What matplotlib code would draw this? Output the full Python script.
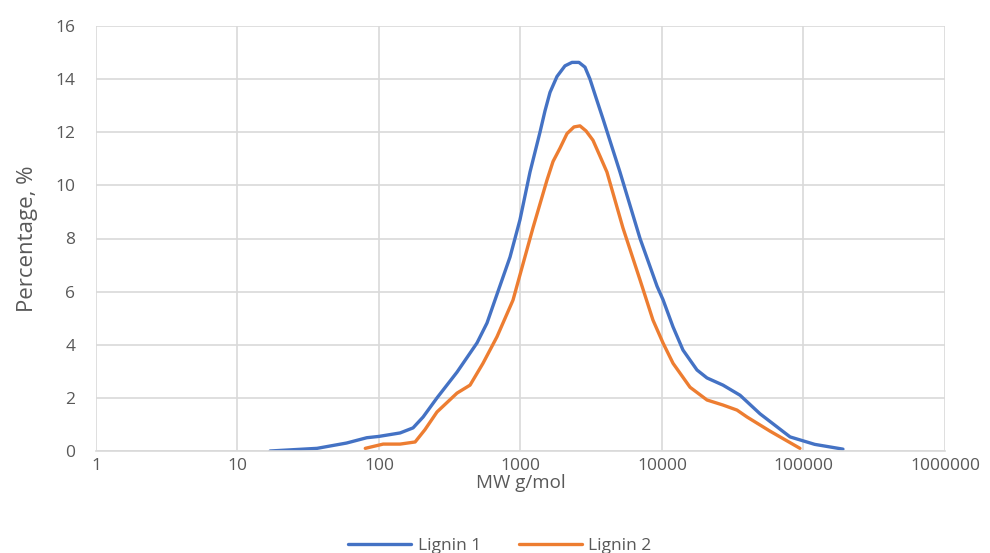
import matplotlib.pyplot as plt
from matplotlib.ticker import FixedLocator, FixedFormatter

# Lignin 1 (blue) - MW g/mol vs percentage
mw_1 = [17, 36.5, 59, 82, 100, 141, 174, 205, 257, 356, 493, 580, 660, 843,
        991, 1167, 1373, 1489, 1616, 1811, 2062, 2311, 2589, 2856, 3098, 3418,
        3830, 5047, 6994, 9230, 10160, 11970, 14070, 17670, 20800, 26980,
        35600, 49300, 80400, 120000, 190000]
pct_1 = [0.0, 0.1, 0.3, 0.5, 0.55, 0.68, 0.87, 1.28, 2.0, 2.97, 4.07, 4.82, 5.68,
         7.3, 8.7, 10.5, 12.0, 12.8, 13.5, 14.1, 14.5, 14.63, 14.63, 14.45, 14.0,
         13.3, 12.5, 10.5, 8.0, 6.2, 5.7, 4.67, 3.8, 3.05, 2.75, 2.48,
         2.1, 1.4, 0.53, 0.25, 0.07]

# Lignin 2 (orange)
mw_2 = [80, 107, 141, 180, 211, 257, 356, 440, 543, 682, 885, 1225, 1539,
        1698, 1901, 2132, 2388, 2633, 2904, 3251, 3646, 4083, 5296, 6994,
        8630, 10160, 11970, 15780, 20800, 26980, 33900, 39900, 57900, 94400]
pct_2 = [0.1, 0.26, 0.26, 0.34, 0.8, 1.47, 2.18, 2.48, 3.3, 4.3, 5.68, 8.4, 10.2,
         10.9, 11.4, 11.95, 12.2, 12.24, 12.05, 11.7, 11.1, 10.5, 8.4, 6.44,
         4.93, 4.07, 3.3, 2.4, 1.92, 1.73, 1.54, 1.28, 0.75, 0.1]

x_ticks = [1, 10, 100, 1000, 10000, 100000, 1000000]
x_tick_labels = ['1', '10', '100', '1000', '10000', '100000', '1000000']
y_ticks = [0, 2, 4, 6, 8, 10, 12, 14, 16]

plt.rcParams['font.family'] = ['Open Sans', 'DejaVu Sans']
label_col = '#595959'
grid_col = '#D9D9D9'

fig = plt.figure(figsize=(9.9, 5.53), dpi=100)
ax = fig.add_axes([96 / 990, 1 - 451 / 553, (945 - 96) / 990, (451 - 26) / 553])

ax.plot(mw_1, pct_1, color='#4472C4', lw=2.4, label='Lignin 1',
        solid_capstyle='round', solid_joinstyle='round')
ax.plot(mw_2, pct_2, color='#ED7D31', lw=2.4, label='Lignin 2',
        solid_capstyle='round', solid_joinstyle='round')

ax.set_xscale('log')
ax.set_xlim(1, 1000000)
ax.set_ylim(0, 16)
ax.xaxis.set_major_locator(FixedLocator(x_ticks))
ax.xaxis.set_major_formatter(FixedFormatter(x_tick_labels))
ax.xaxis.set_minor_locator(FixedLocator([]))
ax.set_yticks(y_ticks)

ax.grid(True, color=grid_col, lw=1.2)
ax.set_axisbelow(True)
for s in ['top', 'right', 'left']:
    ax.spines[s].set_visible(False)
ax.spines['bottom'].set_color(grid_col)
ax.spines['bottom'].set_linewidth(1.2)
ax.tick_params(length=0, labelsize=12.5, labelcolor=label_col)
ax.tick_params(axis='x', pad=5)
ax.tick_params(axis='y', pad=15)

ax.set_xlabel('MW g/mol', fontsize=13.5, color=label_col, labelpad=0)
ax.set_ylabel('Percentage, %', fontsize=16, color=label_col, labelpad=12)

leg = fig.legend(loc='lower center', bbox_to_anchor=(0.505, -0.03), ncol=2,
                 frameon=False, fontsize=12.5, handlelength=3.6, columnspacing=2.2,
                 handletextpad=0.4)
for t in leg.get_texts():
    t.set_color(label_col)

fig.savefig('out.png', dpi=100)
